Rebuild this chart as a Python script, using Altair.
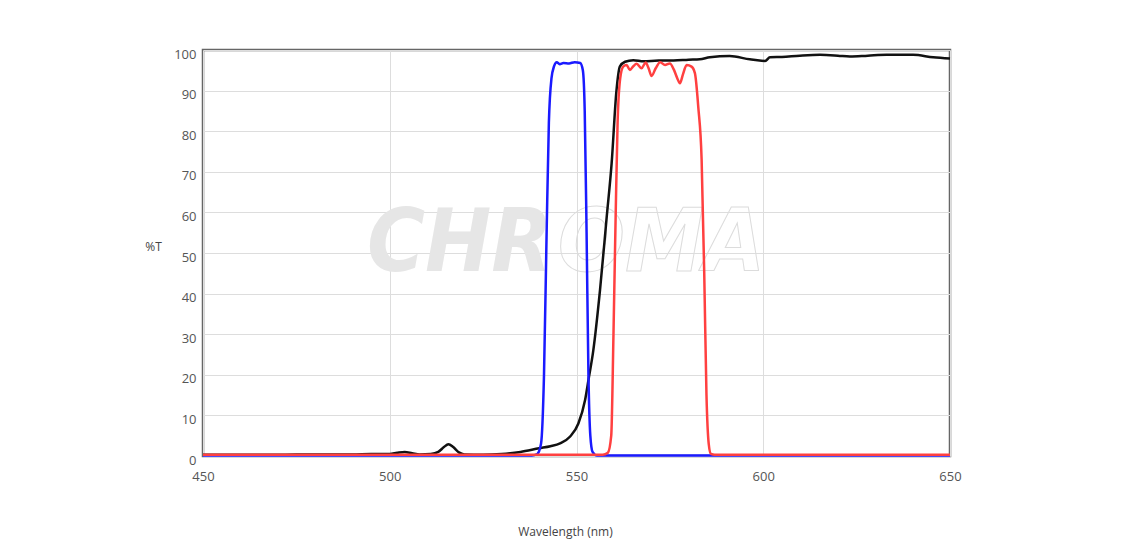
import altair as alt
import pandas as pd

black_wl = [450, 460, 470, 480, 490, 495, 500, 502, 504, 506, 508, 511, 513, 514.5, 515.7, 517, 518.5, 520, 525, 530,
            535, 540, 543, 545.6, 548.3, 550.5, 552.3, 553.2, 554.5, 556.3, 558.1, 559.4, 560.7, 561.6, 563, 565.2,
            568, 572, 576, 580, 583, 585.7, 591, 596.4, 600.5, 601.8, 605, 609.8, 615.2, 620, 623.2, 628, 633,
            640.1, 645.5, 650]
black_t = [0.3, 0.3, 0.3, 0.4, 0.4, 0.5, 0.5, 0.8, 1.0, 0.7, 0.4, 0.5, 1.0, 2.2, 2.9, 2.2, 0.9, 0.4, 0.3, 0.5,
           1.0, 1.9, 2.4, 3.1, 4.8, 8, 13.8, 18.7, 26, 40.9, 59, 72, 90, 95.9, 97.1, 97.5,
           97.2, 97.4, 97.4, 97.6, 97.7, 98.2, 98.5, 97.7, 97.3, 98.2, 98.3, 98.6, 98.8, 98.6, 98.4, 98.6, 98.8,
           98.8, 98.2, 97.9]

blue_wl = [450, 538, 539.5, 540.5, 541.3, 542, 542.6, 543.3, 544, 544.7, 545.5, 546.5, 548, 549.5, 551, 551.7,
           552.2, 552.7, 553.2, 553.7, 554.3, 555.5, 650]
blue_t = [0.1, 0.1, 0.5, 3, 20, 55, 82, 93, 96, 97, 96.5, 96.8, 96.7, 97, 96.8, 95,
          85, 55, 20, 5, 1, 0.1, 0.1]

red_wl = [450, 557, 558.4, 559.3, 559.9, 560.5, 561, 561.7, 562.5, 563.4, 564.3, 565.2, 566.1, 567.4, 568.5,
          569.3, 570.1, 571.2, 572.4, 573.7, 575, 576.1, 577, 577.7, 578.5, 579.5, 580.8, 581.7, 582.6, 583.5,
          584.2, 584.8, 585.4, 586, 587, 650]
red_t = [0.3, 0.3, 0.8, 5, 30, 60, 82, 93, 95.9, 96.3, 95.1, 96, 96.6, 95.5, 96.9,
         95.5, 93.6, 95.5, 97, 96.3, 96.7, 95.1, 93, 91.8, 94, 96.3, 95.9, 94.3, 86, 73,
         45, 15, 3, 0.5, 0.3, 0.3]

x_ticks = [450, 500, 550, 600, 650]
y_ticks = [0, 10, 20, 30, 40, 50, 60, 70, 80, 90, 100]

df = pd.concat([
    pd.DataFrame({"wl": black_wl, "t": black_t, "s": "black", "o": 0}),
    pd.DataFrame({"wl": blue_wl, "t": blue_t, "s": "blue", "o": 1}),
    pd.DataFrame({"wl": red_wl, "t": red_t, "s": "red", "o": 2}),
])

FONT = "Open Sans"
WM_FONT = "DejaVu Sans Condensed"

xs = alt.Scale(domain=[450, 650], nice=False, zero=False)
ys = alt.Scale(domain=[0, 100], nice=False)

wm_filled = alt.Chart(pd.DataFrame({"label": ["CHR"]})).mark_text(
    font=WM_FONT, fontSize=88, fontWeight="bold", fontStyle="italic",
    color="#e6e6e6", align="left", baseline="alphabetic"
).encode(x=alt.value(164), y=alt.value(221), text="label:N")

wm_outline = alt.Chart(pd.DataFrame({"label": ["OMA"]})).mark_text(
    font=WM_FONT, fontSize=88, fontWeight="bold", fontStyle="italic",
    fill="#ffffff", fillOpacity=0, stroke="#dcdcdc", strokeWidth=1,
    align="right", baseline="alphabetic"
).encode(x=alt.value(562), y=alt.value(221), text="label:N")

lines = alt.Chart(df).mark_line(strokeWidth=2.5, interpolate="monotone").encode(
    x=alt.X("wl:Q", scale=xs, title="Wavelength (nm)",
            axis=alt.Axis(values=x_ticks, format="d", grid=True, gridColor="#dddddd",
                          tickSize=0, domain=False, labelPadding=14, labelFontSize=13,
                          titleFontSize=12, titleFontWeight="normal", titlePadding=0,
                          titleX=362, titleY=70, labelFlush=False)),
    y=alt.Y("t:Q", scale=ys, title="%T",
            axis=alt.Axis(values=y_ticks, grid=True, gridColor="#dddddd", tickSize=0,
                          domain=False, labelPadding=7, labelFontSize=13, labelOffset=4,
                          titleAngle=0, titleFontSize=12, titleFontWeight="normal",
                          titleX=-50, titleY=196, titleAlign="center", titleBaseline="middle")),
    color=alt.Color("s:N", scale=alt.Scale(domain=["black", "blue", "red"],
                                          range=["#111111", "#1a1aff", "#ff4040"]), legend=None),
    order="o:Q",
    detail="s:N",
)

chart = alt.layer(wm_filled, wm_outline, lines).properties(
    width=747, height=406,
    autosize=alt.AutoSizeParams(type="none"),
    padding={"left": 203, "top": 50, "right": 178, "bottom": 102},
).configure_view(
    stroke="#666666", strokeWidth=2.5
).configure_axis(
    labelFont=FONT, titleFont=FONT, labelColor="#555555", titleColor="#444444"
)

chart.save("out.html", embed_options={"renderer": "svg", "actions": False})
